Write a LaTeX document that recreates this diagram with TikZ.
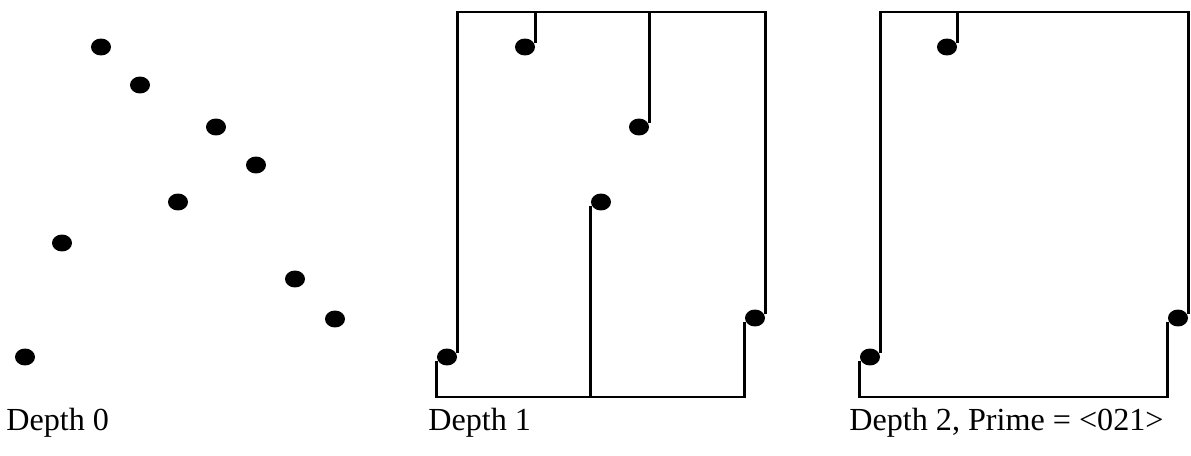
\documentclass[tikz,border=0pt]{standalone}
\usepackage{fontspec}
\setmainfont{Liberation Serif}
\usetikzlibrary{shapes.geometric}

\begin{document}
\begin{tikzpicture}[x=0.02cm, y=-0.02cm, line width=1.5pt,
    dot/.style={ellipse, fill=black, draw=none, inner sep=0pt,
              minimum width=0.4cm, minimum height=0.34cm},
    caption/.style={anchor=base west, inner sep=0pt,
              font=\fontsize{18.3}{20}\selectfont}]
  \useasboundingbox (0,0) rectangle (1191,456);

  % depth 0: the points alone
  \node[dot] (a1) at (101,47) {};
  \node[dot] (a2) at (140,85) {};
  \node[dot] (a3) at (216,127) {};
  \node[dot] (a4) at (256,165) {};
  \node[dot] (a5) at (178,202) {};
  \node[dot] (a6) at (62,243) {};
  \node[dot] (a7) at (295,279) {};
  \node[dot] (a8) at (335,319) {};
  \node[dot] (a9) at (25,357) {};
  \node[caption] (lab0) at (5,430) {Depth 0};

  % depth 1
  \coordinate (top1) at (600,12);
  \coordinate (bot1) at (600,397);
  \node[dot] (b1) at (525,47) {};
  \node[dot] (b3) at (639,127) {};
  \node[dot] (b5) at (601,202) {};
  \node[dot] (b8) at (755,318) {};
  \node[dot] (b9) at (447,357) {};
  \draw (b9.20) -- (b9.20 |- top1) -- (b8.20 |- top1) -- (b8.20);
  \draw (b9.200) -- (b9.200 |- bot1) -- (b8.200 |- bot1) -- (b8.200);
  \draw (b1.20) -- (b1.20 |- top1);
  \draw (b3.20) -- (b3.20 |- top1);
  \draw (b5.200) -- (b5.200 |- bot1);
  \node[caption] (lab1) at (427,430) {Depth 1};

  % depth 2
  \coordinate (top2) at (1000,12);
  \coordinate (bot2) at (1000,397);
  \node[dot] (c1) at (947,47) {};
  \node[dot] (c8) at (1178,318) {};
  \node[dot] (c9) at (870,357) {};
  \draw (c9.20) -- (c9.20 |- top2) -- (c8.20 |- top2) -- (c8.20);
  \draw (c9.200) -- (c9.200 |- bot2) -- (c8.200 |- bot2) -- (c8.200);
  \draw (c1.20) -- (c1.20 |- top2);
  \node[caption] (lab2) at (848,430) {Depth 2, Prime = <021>};
\end{tikzpicture}
\end{document}
